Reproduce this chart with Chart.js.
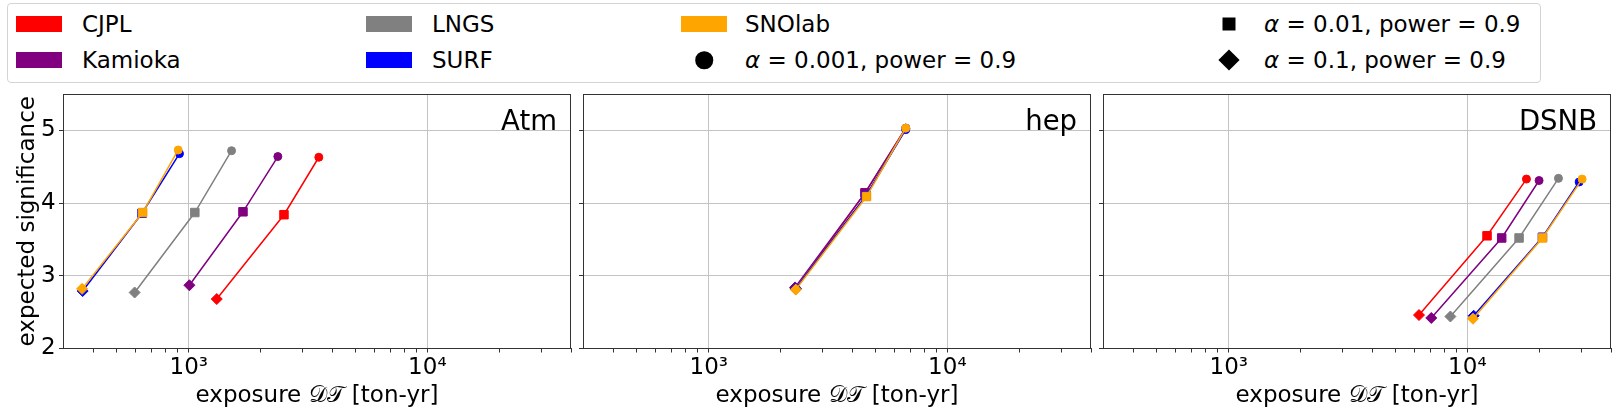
<!DOCTYPE html>
<html>
<head>
<meta charset="utf-8">
<script src="https://cdn.jsdelivr.net/npm/chart.js@4.4.1/dist/chart.umd.min.js"></script>
<style>
  html, body { margin: 0; padding: 0; background: #fff; }
  #wrap { position: relative; width: 1619px; height: 412px; overflow: hidden; font-family: 'DejaVu Sans', sans-serif; }
  #wrap canvas { position: absolute; left: 0; top: 0; }
  .legend { position: absolute; left: 7px; top: 3px; width: 1534px; height: 80px; box-sizing: border-box;
            border: 1px solid #d4d4d4; border-radius: 4px; background: #fff; }
  .item { position: absolute; font-size: 23px; line-height: 28px; white-space: nowrap; color: #000; transform: translateY(-50%); }
  .patch { position: absolute; width: 46px; height: 16px; transform: translateY(-50%); }
  .mk { position: absolute; background: #000; transform: translate(-50%, -50%); }
</style>
</head>
<body>
<div id="wrap">
  <canvas id="c0" width="1619" height="412"></canvas>
  <canvas id="c1" width="1619" height="412"></canvas>
  <canvas id="c2" width="1619" height="412"></canvas>
  <div class="legend" id="legend"></div>
</div>
<script>
const stations = ['CJPL', 'Kamioka', 'LNGS', 'SURF', 'SNOlab'];
const stationColors = ['#ff0000', '#800080', '#808080', '#0000ff', '#ffa500'];
const alphaLabels = ['α = 0.001, power = 0.9', 'α = 0.01, power = 0.9', 'α = 0.1, power = 0.9'];
const panelNames = ['Atm', 'hep', 'DSNB'];

// exposure [ton-yr]; rows follow stations, columns: alpha = 0.1, 0.01, 0.001
const atmExposure = [
  [1310, 2506, 3508],
  [1006, 1687, 2362],
  [593, 1060, 1511],
  [359, 637, 914],
  [357, 641, 903]
];
const atmSignificance = [
  [2.68, 3.84, 4.63],
  [2.87, 3.88, 4.64],
  [2.77, 3.87, 4.72],
  [2.79, 3.86, 4.68],
  [2.82, 3.87, 4.73]
];
const hepExposure = [
  [2315, 4520, 6690],
  [2300, 4520, 6690],
  [2315, 4560, 6700],
  [2315, 4560, 6690],
  [2315, 4584, 6687]
];
const hepSignificance = [
  [2.82, 4.14, 5.03],
  [2.84, 4.14, 5.03],
  [2.82, 4.10, 5.03],
  [2.82, 4.10, 5.01],
  [2.81, 4.09, 5.03]
];
const dsnbExposure = [
  [6270, 12090, 17690],
  [7060, 13930, 19980],
  [8490, 16470, 24090],
  [10630, 20640, 29410],
  [10560, 20640, 30270]
];
const dsnbSignificance = [
  [2.46, 3.55, 4.33],
  [2.42, 3.52, 4.31],
  [2.44, 3.52, 4.34],
  [2.45, 3.53, 4.29],
  [2.41, 3.52, 4.33]
];

const yTickValues = [2, 3, 4, 5];
const xMajorTicks = [1000, 10000];
const xTickLabels = ['10³', '10⁴'];
const xMinorTicks = [400, 500, 600, 700, 800, 900, 2000, 3000, 4000, 5000, 6000, 7000, 8000, 9000, 20000, 30000, 40000];

const FONT = "'DejaVu Sans', sans-serif";
const pointStyles = ['rectRot', 'rect', 'circle'];
const pointSizes = [5.5, 6, 4];

// chart area boxes for the three panels
const boxes = [
  { left: 63, right: 571 },
  { left: 583, right: 1091 },
  { left: 1103, right: 1611 }
];
const AREA_TOP = 94, AREA_BOTTOM = 348.5, H = 412, W = 1619;

const panelFrame = {
  id: 'panelFrame',
  afterDatasetsDraw(chart, args, opts) {
    const { ctx, chartArea: a } = chart;
    ctx.save();
    ctx.strokeStyle = '#333';
    ctx.lineWidth = 1;
    ctx.strokeRect(Math.round(a.left) + 0.5, Math.round(a.top) + 0.5, Math.round(a.right - a.left) - 1, Math.round(a.bottom - a.top) - 1);
    ctx.font = '27.5px ' + FONT;
    ctx.textAlign = 'right';
    ctx.textBaseline = 'alphabetic';
    ctx.fillStyle = '#000';
    ctx.fillText(opts.label, a.right - 14, a.top + 36);
    ctx.restore();
  }
};

function makePanel(idx, exposure, significance) {
  const first = idx === 0;
  const yW = first ? 63 : 10;
  const box = boxes[idx];
  const datasets = stations.map((name, s) => ({
    label: name,
    data: exposure[s].map((x, k) => ({ x, y: significance[s][k] })),
    showLine: true,
    borderColor: stationColors[s],
    backgroundColor: stationColors[s],
    borderWidth: 1.5,
    pointStyle: pointStyles,
    pointRadius: pointSizes,
    pointBackgroundColor: stationColors[s],
    pointBorderColor: stationColors[s],
    pointBorderWidth: 1,
    order: stations.length - s
  }));

  new Chart(document.getElementById('c' + idx), {
    type: 'scatter',
    data: { datasets },
    plugins: [panelFrame],
    options: {
      responsive: false,
      animation: false,
      events: [],
      layout: { padding: { left: box.left - yW, right: W - box.right, top: AREA_TOP, bottom: 0 } },
      plugins: {
        legend: { display: false },
        tooltip: { enabled: false },
        panelFrame: { label: panelNames[idx] }
      },
      scales: {
        x: {
          type: 'logarithmic',
          min: 297,
          max: 40000,
          afterBuildTicks: s => {
            s.ticks = xMinorTicks.concat(xMajorTicks).sort((a, b) => a - b)
              .map(v => ({ value: v, major: xMajorTicks.includes(v) }));
          },
          afterFit: s => { s.height = H - AREA_BOTTOM; },
          ticks: {
            autoSkip: false,
            maxRotation: 0,
            padding: 2,
            color: '#000',
            font: { family: FONT, size: 23 },
            callback: v => {
              const i = xMajorTicks.indexOf(v);
              return i >= 0 ? xTickLabels[i] : '';
            }
          },
          grid: {
            color: c => (c.tick && xMajorTicks.includes(c.tick.value)) ? '#c4c4c4' : 'rgba(0,0,0,0)',
            tickColor: '#333',
            tickLength: 4,
            lineWidth: 1
          },
          border: { color: '#333', width: 1 },
          title: {
            display: true,
            text: 'exposure 𝒟𝒯 [ton-yr]',
            color: '#000',
            font: { family: FONT, size: 23 },
            padding: { top: 0, bottom: 2 }
          }
        },
        y: {
          type: 'linear',
          min: 2,
          max: 5.5,
          afterBuildTicks: s => { s.ticks = yTickValues.map(v => ({ value: v })); },
          afterFit: s => { s.width = yW; },
          ticks: {
            display: first,
            padding: 3.3,
            color: '#000',
            font: { family: FONT, size: 23 }
          },
          grid: { color: '#c4c4c4', tickColor: '#333', tickLength: 4, lineWidth: 1 },
          border: { color: '#333', width: 1 },
          title: {
            display: first,
            text: 'expected significance',
            color: '#000',
            font: { family: FONT, size: 23 },
            padding: { top: 14.3, bottom: 0 }
          }
        }
      }
    }
  });
}

makePanel(0, atmExposure, atmSignificance);
makePanel(1, hepExposure, hepSignificance);
makePanel(2, dsnbExposure, dsnbSignificance);

// legend, laid out in four columns like the original (coordinates inside the legend box)
const legend = document.getElementById('legend');
const rowY = [20, 56];
function addText(x, y, html) {
  const d = document.createElement('div');
  d.className = 'item';
  d.style.left = x + 'px';
  d.style.top = y + 'px';
  d.innerHTML = html;
  legend.appendChild(d);
}
function addPatch(x, y, color) {
  const d = document.createElement('div');
  d.className = 'patch';
  d.style.left = x + 'px';
  d.style.top = y + 'px';
  d.style.background = color;
  legend.appendChild(d);
}
function addMarker(cx, cy, shape) {
  const d = document.createElement('div');
  d.className = 'mk';
  d.style.left = cx + 'px';
  d.style.top = cy + 'px';
  if (shape === 'circle') { d.style.width = '17.5px'; d.style.height = '17.5px'; d.style.borderRadius = '50%'; }
  if (shape === 'rect') { d.style.width = '13px'; d.style.height = '13px'; }
  if (shape === 'rectRot') { d.style.width = '15px'; d.style.height = '15px'; d.style.transform = 'translate(-50%, -50%) rotate(45deg)'; }
  legend.appendChild(d);
}
const colX = [8, 358, 673, 1198];
const textX = [74, 424, 737, 1256];
const alphaHtml = t => t.replace('α', '<i>α</i>');
// column 1 and 2: stations
[[0, 1], [2, 3]].forEach((pair, c) => {
  pair.forEach((s, r) => {
    addPatch(colX[c], rowY[r], stationColors[s]);
    addText(textX[c], rowY[r], stations[s]);
  });
});
// column 3: SNOlab + alpha 0.001
addPatch(colX[2], rowY[0], stationColors[4]);
addText(textX[2], rowY[0], stations[4]);
addMarker(colX[2] + 23, rowY[1], 'circle');
addText(textX[2], rowY[1], alphaHtml(alphaLabels[0]));
// column 4: alpha 0.01, alpha 0.1
addMarker(colX[3] + 23, rowY[0], 'rect');
addText(textX[3], rowY[0], alphaHtml(alphaLabels[1]));
addMarker(colX[3] + 23, rowY[1], 'rectRot');
addText(textX[3], rowY[1], alphaHtml(alphaLabels[2]));
</script>
</body>
</html>
